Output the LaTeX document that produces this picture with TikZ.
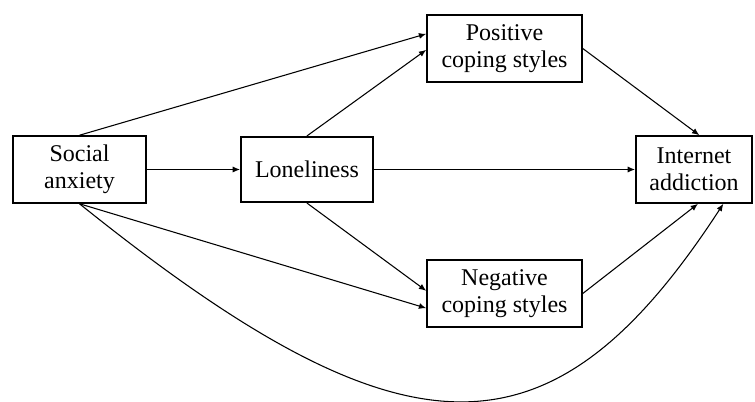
\documentclass[tikz,border=0pt]{standalone}
\usepackage{fontspec}
\setmainfont{Liberation Serif}
\usetikzlibrary{arrows.meta}
\begin{document}
\begin{tikzpicture}[
        x=0.75pt, y=-0.75pt,
        boxn/.style={draw, line width=1.4pt, align=center, inner sep=0pt, minimum height=50pt, font=\fontsize{18}{20.5}\selectfont},
        arr/.style={draw, line width=0.8pt, -{Latex[length=5.5pt,width=4.5pt]}},
    ]
    \useasboundingbox (0,0) rectangle (755,402);
    \node[boxn, minimum width=100pt](soc) at (79.5,169.5){Social\\anxiety};
    \node[boxn, minimum width=99pt, minimum height=49pt](lon) at (307,169.5){Loneliness};
    \node[boxn, minimum width=116pt](pos) at (504.5,48.5){Positive\\coping styles};
    \node[boxn, minimum width=116pt](neg) at (504.5,293.5){Negative\\coping styles};
    \node[boxn, minimum width=87pt](int) at (694,169.5){Internet\\addiction};
    % direct paths
    \draw[arr] (soc) -- (lon);
    \draw[arr] (lon) -- (int);
    \draw[arr] (soc.north) -- ([yshift=11pt]pos.west);
    \draw[arr] (lon.north) -- ([yshift=-1pt]pos.west);
    \draw[arr] (lon.south) -- ([yshift=2pt]neg.west);
    \draw[arr] (soc.south) -- ([yshift=-11pt]neg.west);
    \draw[arr] (pos.east) -- ([xshift=4pt]int.north);
    \draw[arr] (neg.east) -- ([xshift=3pt]int.south);
    \draw[arr] (soc.south) .. controls (407,467) and (552,467) .. ([xshift=22pt]int.south);
\end{tikzpicture}
\end{document}
